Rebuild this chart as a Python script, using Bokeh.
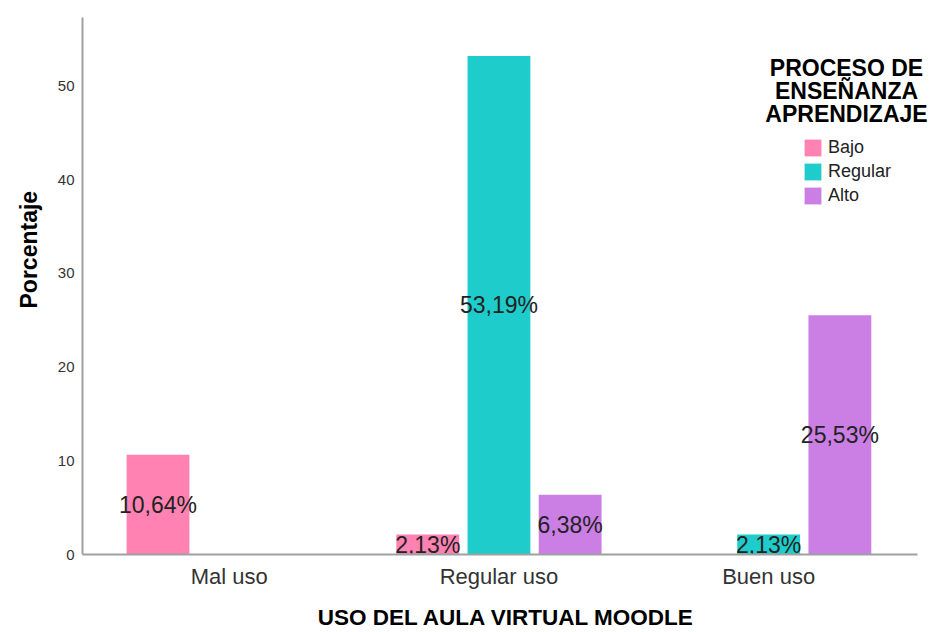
import math
from bokeh.plotting import figure
from bokeh.models import (ColumnDataSource, Range1d, FixedTicker, Label, Legend, LegendItem, Title)
from bokeh.core.properties import value
from bokeh.embed import file_html
from bokeh.resources import INLINE

categories = ["Mal uso", "Regular uso", "Buen uso"]
series_names = ["Bajo", "Regular", "Alto"]
bajo = [10.64, 2.13, 0.0]
regular = [0.0, 53.19, 2.13]
alto = [0.0, 6.38, 25.53]
colors = ["#FF82B2", "#1ECDCB", "#CB7FE5"]
y_ticks = [0, 10, 20, 30, 40, 50]

FONT = "Liberation Sans"

X0, X_AXIS_END, X1 = 0.456, 3.552, 3.600
Y0, Y1 = 0, 57.3
W, H = 930, 632
BL, BR, BT, BB = 81, 0, 17, 78

p = figure(width=W, height=H, output_backend="svg", toolbar_location=None,
           x_range=Range1d(X0, X1), y_range=Range1d(Y0, Y1),
           min_border_left=BL, min_border_right=BR, min_border_top=BT, min_border_bottom=BB)
p.outline_line_color = None
p.xgrid.visible = False
p.ygrid.visible = False

offset = 0.264
bar_w = 0.233
legend_items = []
for si, (name, vals, col) in enumerate(zip(series_names, [bajo, regular, alto], colors)):
    xs, ys, labs = [], [], []
    for ci, v in enumerate(vals):
        if v > 0:
            xs.append(ci + 1 + (si - 1) * offset)
            ys.append(v)
            labs.append(f"{v:.2f}%".replace(".", ","))
    src = ColumnDataSource(dict(x=xs, top=ys, mid=[y / 2 for y in ys], lab=labs))
    r = p.vbar(x="x", top="top", width=bar_w, bottom=0, source=src,
               fill_color=col, line_color=None)
    legend_items.append(LegendItem(label=name, renderers=[r]))
    p.text(x="x", y="mid", text="lab", source=src, text_align="center",
           text_baseline="middle", text_font=value(FONT), text_font_size="23px",
           text_color="#222222")

# axes
for ax in (p.xaxis[0], p.yaxis[0]):
    ax.axis_line_color = "#A0A0A0"
    ax.axis_line_width = 2
    ax.major_tick_line_color = None
    ax.minor_tick_line_color = None
    ax.major_tick_out = 0
    ax.major_tick_in = 0
    ax.major_label_text_font = FONT
    ax.major_label_text_color = "#333333"

p.xaxis.bounds = (X0, X_AXIS_END)

p.yaxis.ticker = FixedTicker(ticks=y_ticks)
p.yaxis.major_label_text_font_size = "15px"
p.yaxis.major_label_standoff = 8

p.xaxis.ticker = FixedTicker(ticks=[i + 1 for i in range(len(categories))])
p.xaxis.major_label_overrides = {i + 1: c for i, c in enumerate(categories)}
p.xaxis.major_label_text_font_size = "22px"
p.xaxis.major_label_text_line_height = 1.0
p.xaxis.major_label_standoff = 9

# axis titles
p.xaxis.axis_label = "USO DEL AULA VIRTUAL MOODLE"
p.xaxis.axis_label_text_font = FONT
p.xaxis.axis_label_text_font_size = "22.5px"
p.xaxis.axis_label_text_font_style = "bold"
p.xaxis.axis_label_text_color = "#000000"
p.xaxis.axis_label_text_line_height = 1.0
p.xaxis.axis_label_standoff = 13

p.add_layout(Title(text="Porcentaje", align="left", offset=246, standoff=26,
                   text_font=FONT, text_font_size="23px", text_font_style="bold",
                   text_color="#000000"), "left")

# legend title
for txt, yy in zip(["PROCESO DE", "ENSEÑANZA", "APRENDIZAJE"], [487, 464, 441]):
    p.add_layout(Label(x=764, y=yy, x_units="screen", y_units="screen",
                       text=txt, text_align="center", text_baseline="middle",
                       text_font=FONT, text_font_size="23px", text_font_style="bold",
                       text_color="#000000"))

legend = Legend(items=legend_items, location=(720, 348), margin=0, padding=0,
                glyph_width=21, glyph_height=21, label_height=21, spacing=3,
                label_standoff=5, label_text_font=FONT, label_text_font_size="18px",
                label_text_color="#222222", background_fill_alpha=0,
                border_line_color=None)
p.add_layout(legend)

open("out.html", "w").write(file_html(p, INLINE))
